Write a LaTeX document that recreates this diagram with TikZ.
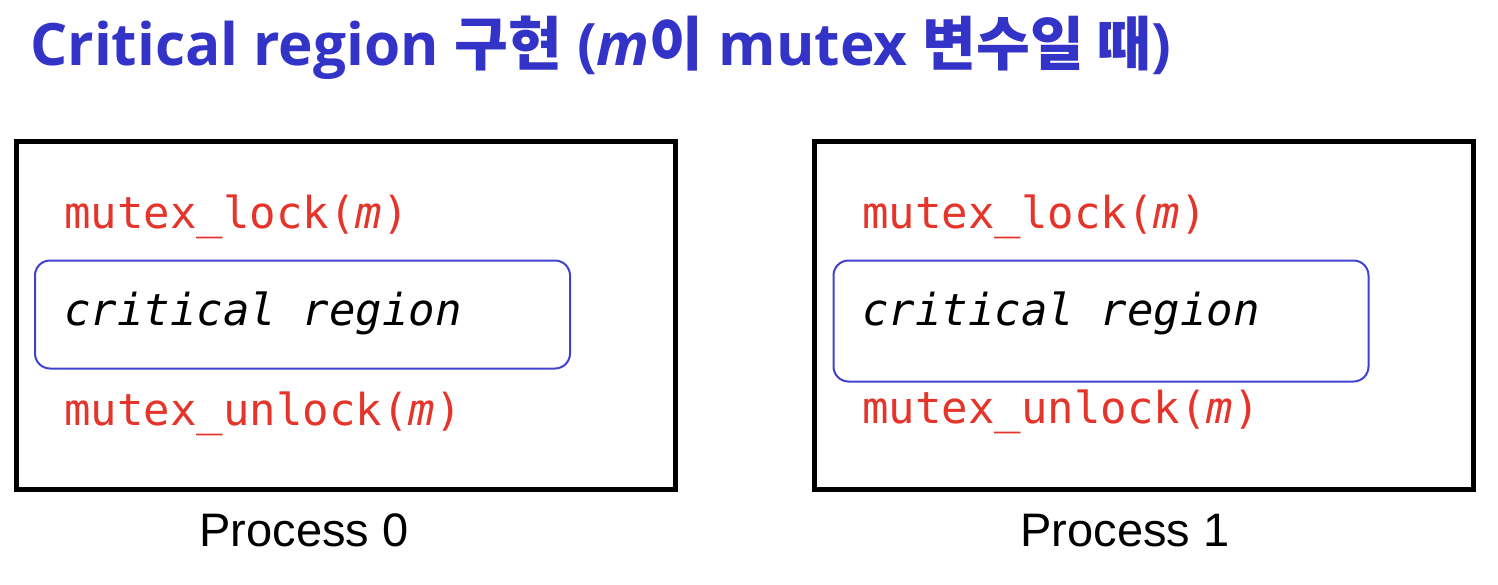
\documentclass[tikz,border=0pt]{standalone}
\usepackage{fontspec}
\setmainfont{Liberation Sans}
\setmonofont{DejaVu Sans Mono}
\newfontfamily\titlefont{Open Sans}
\newfontfamily\krfont{Noto Sans CJK KR}
\definecolor{titleblue}{HTML}{3333C8}
\definecolor{codered}{HTML}{E5352B}
\definecolor{regionborder}{HTML}{4141CF}
\tikzset{
  procbox/.style={rectangle, draw=black, line width=5pt, minimum width=659pt, minimum height=348pt},
  regionbox/.style={rectangle, rounded corners=15pt, draw=regionborder, line width=2pt, minimum width=535pt},
  code/.style={anchor=base west, inner sep=0pt, text=codered, font=\fontsize{44}{48}\selectfont\ttfamily},
  regiontext/.style={anchor=base west, inner sep=0pt, font=\fontsize{44}{48}\selectfont\ttfamily\itshape},
  caption/.style={anchor=base, inner sep=0pt, font=\fontsize{47}{52}\selectfont},
  heading/.style={anchor=base west, inner sep=0pt, text=titleblue, font=\fontsize{58.5}{64}\selectfont\titlefont\bfseries}
}

\begin{document}
\begin{tikzpicture}[x=1pt, y=-1pt]
\useasboundingbox (0,0) rectangle (1498,584);

\node[heading] (title) at (30,65) {Critical region {\krfont 구현} (\textit{m}{\krfont 이} mutex {\krfont 변수일 때})};

\node[procbox] (proc0) at (346,315.5) {};
\node[regionbox, minimum height=108pt] (region0) at (302.5,314.5) {};
\node[code] (lock0) at (64,228) {mutex\_lock(\textit{m})};
\node[regiontext] (crit0) at (64,325) {critical region};
\node[code] (unlock0) at (64,425) {mutex\_unlock(\textit{m})};
\node[caption] (label0) at (304,546) {Process 0};

\node[procbox] (proc1) at (1143.5,315.5) {};
\node[regionbox, minimum height=121pt] (region1) at (1101,321) {};
\node[code] (lock1) at (862,228) {mutex\_lock(\textit{m})};
\node[regiontext] (crit1) at (862,325) {critical region};
\node[code] (unlock1) at (862,423) {mutex\_unlock(\textit{m})};
\node[caption] (label1) at (1125,546) {Process 1};

\end{tikzpicture}
\end{document}
